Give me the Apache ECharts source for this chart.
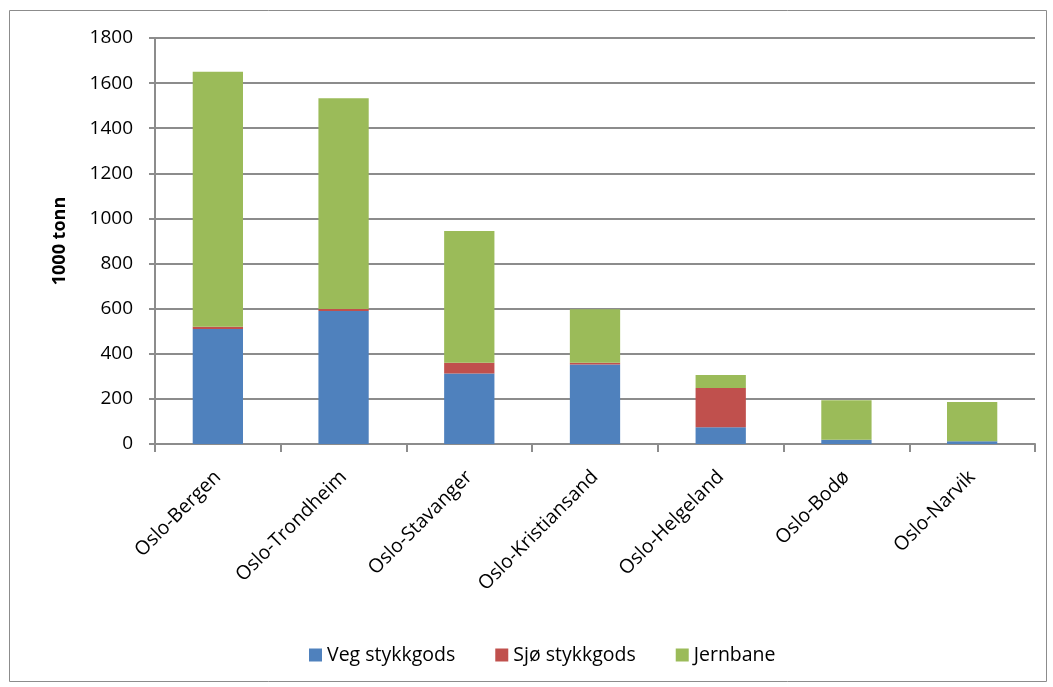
<!DOCTYPE html>
<html><head><meta charset="utf-8">
<script src="https://cdn.jsdelivr.net/npm/echarts@6/dist/echarts.min.js"></script>
<style>html,body{margin:0;padding:0;background:#fff}#c{width:1053px;height:687px}</style>
</head><body><div id="c"></div>
<script>
const categories = ['Oslo-Bergen','Oslo-Trondheim','Oslo-Stavanger','Oslo-Kristiansand','Oslo-Helgeland','Oslo-Bodø','Oslo-Narvik'];
const vegStykkgods = [510, 590, 313, 352, 74, 19, 12];
const sjoStykkgods = [10, 8, 47, 8, 174, 0, 0];
const jernbane = [1130, 935, 584, 237, 58, 175, 174];
const yTicks = [0, 200, 400, 600, 800, 1000, 1200, 1400, 1600, 1800];

const font = '"Open Sans", Lato, sans-serif';
const chart = echarts.init(document.getElementById('c'));
chart.setOption({
  animation: false,
  textStyle: {fontFamily: font},
  graphic: [{type:'rect', shape:{x:9.5,y:10.5,width:1037,height:671}, style:{fill:null, stroke:'#8c8c8c', lineWidth:1}, silent:true}],
  grid: {left:155, right:18, top:38, bottom:243, containLabel:false},
  legend: {
    bottom: 17, left: 304, itemWidth: 13, itemHeight: 13, itemGap: 40,
    icon: 'rect',
    textStyle: {fontSize: 19.5, color:'#000', fontFamily: font},
    data: ['Veg stykkgods','Sjø stykkgods','Jernbane']
  },
  xAxis: {
    type: 'category', data: categories,
    axisLine: {lineStyle:{color:'#8c8c8c', width:2}},
    axisTick: {show:true, length:8, lineStyle:{color:'#8c8c8c', width:2}},
    axisLabel: {rotate:45, fontSize:19.5, color:'#000', margin:30, interval:0, fontFamily: font}
  },
  yAxis: {
    type: 'value', min: yTicks[0], max: yTicks[yTicks.length-1], interval: 200,
    name: '1000 tonn', nameLocation: 'middle', nameGap: 86, nameRotate: 90,
    nameTextStyle: {fontSize:18, fontWeight:'bold', color:'#000', fontFamily: font},
    axisLine: {show:true, lineStyle:{color:'#8c8c8c', width:2}},
    axisTick: {show:true, length:6, inside:false, lineStyle:{color:'#8c8c8c', width:2}},
    axisLabel: {fontSize:19, color:'#000', margin:22, fontFamily: font, formatter: v => String(v)},
    splitLine: {lineStyle:{color:'#8c8c8c', width:2}}
  },
  series: [
    {name:'Veg stykkgods', type:'bar', stack:'s', data: vegStykkgods, barWidth:'40%', itemStyle:{color:'#4F81BD'}},
    {name:'Sjø stykkgods', type:'bar', stack:'s', data: sjoStykkgods, barWidth:'40%', itemStyle:{color:'#C0504D'}},
    {name:'Jernbane', type:'bar', stack:'s', data: jernbane, barWidth:'40%', itemStyle:{color:'#9BBB59'}}
  ]
});
</script></body></html>
